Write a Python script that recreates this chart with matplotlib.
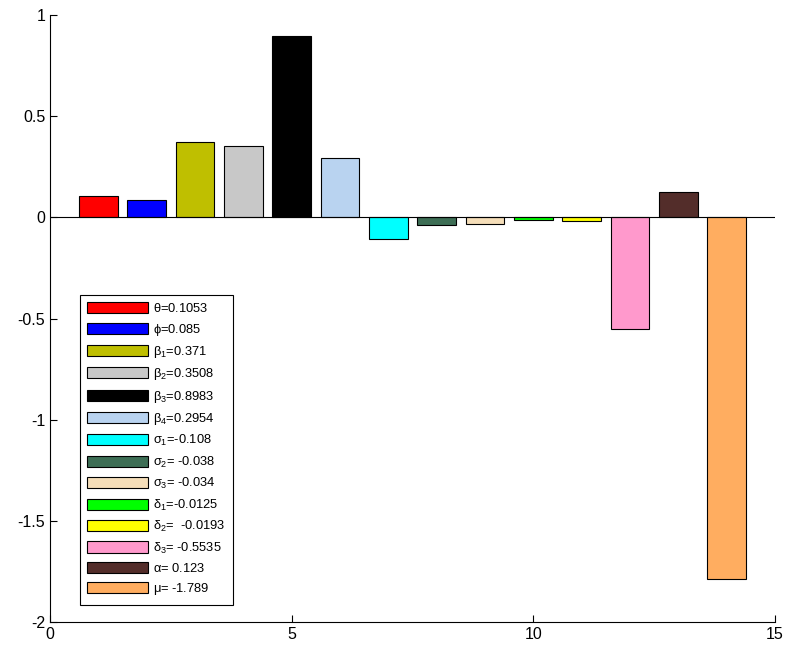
import matplotlib
matplotlib.use("Agg")
import matplotlib.pyplot as plt

plt.rcParams['font.family'] = ['Liberation Sans', 'DejaVu Sans']
plt.rcParams['mathtext.fontset'] = 'custom'
plt.rcParams['mathtext.rm'] = 'Liberation Sans'
plt.rcParams['mathtext.it'] = 'Liberation Sans'

positions = list(range(1, 15))
values = [0.1053, 0.085, 0.371, 0.3508, 0.8983, 0.2954, -0.108, -0.038, -0.034,
          -0.0125, -0.0193, -0.5535, 0.123, -1.789]
labels = [r'$\theta$=0.1053', r'$\phi$=0.085', r'$\beta_1$=0.371', r'$\beta_2$=0.3508',
          r'$\beta_3$=0.8983', r'$\beta_4$=0.2954', r'$\sigma_1$=-0.108', r'$\sigma_2$= -0.038',
          r'$\sigma_3$= -0.034', r'$\delta_1$=-0.0125', r'$\delta_2$=  -0.0193',
          r'$\delta_3$= -0.5535', r'$\alpha$= 0.123', r'$\mu$= -1.789']
colors = ['#ff0000', '#0000ff', '#bfbf00', '#c8c8c8', '#000000', '#b9d3f0', '#00ffff',
          '#3d6e55', '#f5deb9', '#00ff00', '#ffff00', '#ff99cc', '#532d2a', '#ffad60']

fig = plt.figure(figsize=(7.85, 6.45), dpi=100)
ax = fig.add_axes([0.0637, 0.0357, 0.9236, 0.941])
for p, v, c, l in zip(positions, values, colors, labels):
    ax.bar(p, v, width=0.8, color=c, edgecolor='black', linewidth=0.8, label=l)
ax.axhline(0, color='black', linewidth=0.8)
ax.set_xlim(0, 15)
ax.set_ylim(-2, 1)
ax.set_xticks([0, 5, 10, 15])
ax.set_yticks([-2, -1.5, -1, -0.5, 0, 0.5, 1])
ax.set_yticklabels(['-2', '-1.5', '-1', '-0.5', '0', '0.5', '1'])
ax.spines['top'].set_visible(False)
ax.spines['right'].set_visible(False)
ax.tick_params(direction='in', labelsize=11.5, length=5)
leg = ax.legend(loc='lower left', bbox_to_anchor=(0.041, 0.028), fontsize=9.3,
                handlelength=4.7, handleheight=0.95, labelspacing=0.49, borderpad=0.6,
                handletextpad=0.35, borderaxespad=0,
                fancybox=False, edgecolor='black', framealpha=1)
leg.get_frame().set_linewidth(0.8)
fig.savefig('out.png', dpi=100)
